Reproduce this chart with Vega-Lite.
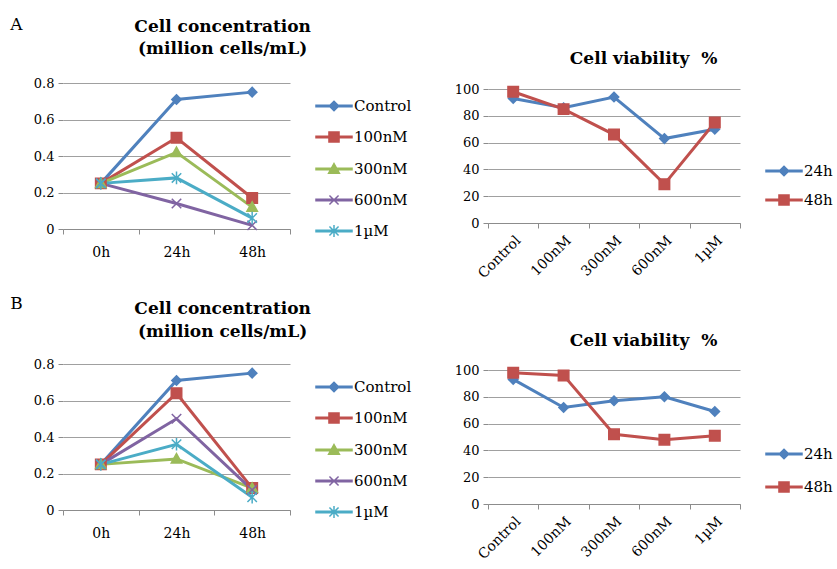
{
  "$schema": "https://vega.github.io/schema/vega-lite/v6.json",
  "background": "white",
  "padding": {"left": 10, "top": 16, "right": 5, "bottom": 5},
  "config": {
    "font": "DejaVu Serif",
    "view": {"stroke": null},
    "axis": {"labelFont": "DejaVu Serif", "labelFontSize": 13, "labelColor": "#000000", "domainColor": "#8c8c8c", "tickColor": "#8c8c8c", "gridColor": "#a0a0a0", "title": null},
    "axisX": {"labelFontSize": 14},
    "legend": {"labelFont": "DejaVu Serif", "labelFontSize": 15, "labelColor": "#000000"},
    "title": {"font": "DejaVu Serif", "fontWeight": "bold", "fontSize": 17, "color": "#000000"}
  },
  "datasets": {
    "concA": [
      {"time": "0h", "series": "Control", "value": 0.25},
      {"time": "24h", "series": "Control", "value": 0.71},
      {"time": "48h", "series": "Control", "value": 0.75},
      {"time": "0h", "series": "100nM", "value": 0.25},
      {"time": "24h", "series": "100nM", "value": 0.50},
      {"time": "48h", "series": "100nM", "value": 0.17},
      {"time": "0h", "series": "300nM", "value": 0.25},
      {"time": "24h", "series": "300nM", "value": 0.42},
      {"time": "48h", "series": "300nM", "value": 0.12},
      {"time": "0h", "series": "600nM", "value": 0.25},
      {"time": "24h", "series": "600nM", "value": 0.14},
      {"time": "48h", "series": "600nM", "value": 0.02},
      {"time": "0h", "series": "1µM", "value": 0.25},
      {"time": "24h", "series": "1µM", "value": 0.28},
      {"time": "48h", "series": "1µM", "value": 0.06}
    ],
    "viaA": [
      {"dose": "Control", "series": "24h", "value": 93},
      {"dose": "100nM", "series": "24h", "value": 86},
      {"dose": "300nM", "series": "24h", "value": 94},
      {"dose": "600nM", "series": "24h", "value": 63},
      {"dose": "1µM", "series": "24h", "value": 70},
      {"dose": "Control", "series": "48h", "value": 98},
      {"dose": "100nM", "series": "48h", "value": 85},
      {"dose": "300nM", "series": "48h", "value": 66},
      {"dose": "600nM", "series": "48h", "value": 29},
      {"dose": "1µM", "series": "48h", "value": 75}
    ],
    "concB": [
      {"time": "0h", "series": "Control", "value": 0.25},
      {"time": "24h", "series": "Control", "value": 0.71},
      {"time": "48h", "series": "Control", "value": 0.75},
      {"time": "0h", "series": "100nM", "value": 0.25},
      {"time": "24h", "series": "100nM", "value": 0.64},
      {"time": "48h", "series": "100nM", "value": 0.12},
      {"time": "0h", "series": "300nM", "value": 0.25},
      {"time": "24h", "series": "300nM", "value": 0.28},
      {"time": "48h", "series": "300nM", "value": 0.12},
      {"time": "0h", "series": "600nM", "value": 0.25},
      {"time": "24h", "series": "600nM", "value": 0.50},
      {"time": "48h", "series": "600nM", "value": 0.11},
      {"time": "0h", "series": "1µM", "value": 0.25},
      {"time": "24h", "series": "1µM", "value": 0.36},
      {"time": "48h", "series": "1µM", "value": 0.07}
    ],
    "viaB": [
      {"dose": "Control", "series": "24h", "value": 93},
      {"dose": "100nM", "series": "24h", "value": 72},
      {"dose": "300nM", "series": "24h", "value": 77},
      {"dose": "600nM", "series": "24h", "value": 80},
      {"dose": "1µM", "series": "24h", "value": 69},
      {"dose": "Control", "series": "48h", "value": 98},
      {"dose": "100nM", "series": "48h", "value": 96},
      {"dose": "300nM", "series": "48h", "value": 52},
      {"dose": "600nM", "series": "48h", "value": 48},
      {"dose": "1µM", "series": "48h", "value": 51}
    ]
  },
  "bounds": "flush",
  "spacing": 281,
  "vconcat": [
    {
      "title": {"text": "A", "anchor": "start", "fontWeight": "normal", "fontSize": 17, "dx": -23, "dy": 20},
      "bounds": "flush",
      "spacing": 198,
      "hconcat": [
        {
          "width": 227, "height": 146,
          "title": {"text": ["Cell concentration", "(million cells/mL)"], "anchor": "middle", "frame": "bounds", "lineHeight": 22, "offset": 19},
          "data": {"name": "concA"},
          "encoding": {
            "x": {"field": "time", "type": "nominal", "sort": ["0h", "24h", "48h"], "scale": {"type": "band", "paddingInner": 0, "paddingOuter": 0}, "axis": {"labelAngle": 0, "tickBand": "extent", "tickSize": 5, "labelPadding": 11, "title": null}},
            "y": {"field": "value", "type": "quantitative", "scale": {"domain": [0, 0.8], "nice": false}, "axis": {"values": [0, 0.2, 0.4, 0.6, 0.8], "format": "~g", "domain": false, "tickSize": 5, "labelPadding": 4, "title": null}}
          },
          "layer": [
            {"mark": {"type": "line", "strokeWidth": 3}, "encoding": {"stroke": {"field": "series", "type": "nominal", "scale": {"domain": ["Control", "100nM", "300nM", "600nM", "1µM"], "range": ["#4F81BD", "#C0504D", "#9BBB59", "#8064A2", "#4BACC6"]}, "legend": null}}},
            {"mark": {"type": "point", "filled": true, "size": 110, "strokeWidth": 1.5, "opacity": 1},
             "encoding": {
               "fill": {"field": "series", "type": "nominal", "scale": {"domain": ["Control", "100nM", "300nM", "600nM", "1µM"], "range": ["#4F81BD", "#C0504D", "#9BBB59", "#8064A2", "#4BACC6"]}, "legend": null},
               "stroke": {"field": "series", "type": "nominal", "scale": {"domain": ["Control", "100nM", "300nM", "600nM", "1µM"], "range": ["#4F81BD", "#C0504D", "#9BBB59", "#8064A2", "#4BACC6"]}, "legend": null},
               "shape": {"field": "series", "type": "nominal", "scale": {"domain": ["Control", "100nM", "300nM", "600nM", "1µM"], "range": ["M0,-0.9L0.9,0L0,0.9L-0.9,0Z", "M-1,-1L1,-1L1,1L-1,1Z", "M0,-1L1,0.8L-1,0.8Z", "M-0.9,-0.9L0.9,0.9M-0.9,0.9L0.9,-0.9", "M-0.9,-0.9L0.9,0.9M-0.9,0.9L0.9,-0.9M0,-1.2L0,1.2"]}, "legend": null}
             }},
            {"mark": {"type": "point", "filled": true, "size": 576, "opacity": 0},
             "encoding": {
               "fill": {"field": "series", "type": "nominal", "scale": {"domain": ["Control", "100nM", "300nM", "600nM", "1µM"], "range": ["#4F81BD", "#C0504D", "#9BBB59", "#8064A2", "#4BACC6"]}, "legend": {"title": null, "orient": "none", "legendX": 258, "legendY": 10, "symbolSize": 576, "symbolStrokeWidth": 1.5, "symbolOpacity": 1, "rowPadding": 10, "labelOffset": 7}},
               "stroke": {"field": "series", "type": "nominal", "scale": {"domain": ["Control", "100nM", "300nM", "600nM", "1µM"], "range": ["#4F81BD", "#C0504D", "#9BBB59", "#8064A2", "#4BACC6"]}, "legend": {"title": null, "orient": "none", "legendX": 258, "legendY": 10, "symbolSize": 576, "symbolStrokeWidth": 1.5, "symbolOpacity": 1, "rowPadding": 10, "labelOffset": 7}},
               "shape": {"field": "series", "type": "nominal", "scale": {"domain": ["Control", "100nM", "300nM", "600nM", "1µM"], "range": [
                 "M-1.5,-0.07L1.5,-0.07L1.5,0.07L-1.5,0.07ZM0,-0.4L0.4,0L0,0.4L-0.4,0Z",
                 "M-1.5,-0.07L1.5,-0.07L1.5,0.07L-1.5,0.07ZM-0.42,-0.42L0.42,-0.42L0.42,0.42L-0.42,0.42Z",
                 "M-1.5,-0.07L1.5,-0.07L1.5,0.07L-1.5,0.07ZM0,-0.45L0.45,0.35L-0.45,0.35Z",
                 "M-1.5,-0.07L1.5,-0.07L1.5,0.07L-1.5,0.07ZM-0.38,-0.38L0.38,0.38M-0.38,0.38L0.38,-0.38",
                 "M-1.5,-0.07L1.5,-0.07L1.5,0.07L-1.5,0.07ZM-0.38,-0.38L0.38,0.38M-0.38,0.38L0.38,-0.38M0,-0.5L0,0.5"]}, "legend": {"title": null, "orient": "none", "legendX": 258, "legendY": 10, "symbolSize": 576, "symbolStrokeWidth": 1.5, "symbolOpacity": 1, "rowPadding": 10, "labelOffset": 7}}
             }}
          ],
          "resolve": {"scale": {"fill": "independent", "stroke": "independent", "shape": "independent"}}
        },
        {
          "width": 252, "height": 140,
          "title": {"text": "Cell viability\u00a0 %", "anchor": "middle", "frame": "bounds", "offset": 15},
          "data": {"name": "viaA"},
          "encoding": {
            "x": {"field": "dose", "type": "nominal", "sort": ["Control", "100nM", "300nM", "600nM", "1µM"], "scale": {"type": "band", "paddingInner": 0, "paddingOuter": 0}, "axis": {"labelAngle": -45, "tickBand": "extent", "tickSize": 5, "labelPadding": 5, "title": null}},
            "y": {"field": "value", "type": "quantitative", "scale": {"domain": [0, 104.5], "nice": false}, "axis": {"values": [0, 20, 40, 60, 80, 100], "domain": false, "tickSize": 5, "labelPadding": 4, "title": null}}
          },
          "layer": [
            {"mark": {"type": "line", "strokeWidth": 3}, "encoding": {"stroke": {"field": "series", "type": "nominal", "scale": {"domain": ["24h", "48h"], "range": ["#4F81BD", "#C0504D"]}, "legend": null}}},
            {"mark": {"type": "point", "filled": true, "size": 110, "strokeWidth": 1.5, "opacity": 1},
             "encoding": {
               "fill": {"field": "series", "type": "nominal", "scale": {"domain": ["24h", "48h"], "range": ["#4F81BD", "#C0504D"]}, "legend": null},
               "stroke": {"field": "series", "type": "nominal", "scale": {"domain": ["24h", "48h"], "range": ["#4F81BD", "#C0504D"]}, "legend": null},
               "shape": {"field": "series", "type": "nominal", "scale": {"domain": ["24h", "48h"], "range": ["M0,-0.9L0.9,0L0,0.9L-0.9,0Z", "M-1,-1L1,-1L1,1L-1,1Z"]}, "legend": null}
             }},
            {"mark": {"type": "point", "filled": true, "size": 576, "opacity": 0},
             "encoding": {
               "fill": {"field": "series", "type": "nominal", "scale": {"domain": ["24h", "48h"], "range": ["#4F81BD", "#C0504D"]}, "legend": {"title": null, "orient": "none", "legendX": 283, "legendY": 75, "symbolSize": 576, "symbolStrokeWidth": 1.5, "symbolOpacity": 1, "rowPadding": 8, "labelOffset": 7}},
               "stroke": {"field": "series", "type": "nominal", "scale": {"domain": ["24h", "48h"], "range": ["#4F81BD", "#C0504D"]}, "legend": {"title": null, "orient": "none", "legendX": 283, "legendY": 75, "symbolSize": 576, "symbolStrokeWidth": 1.5, "symbolOpacity": 1, "rowPadding": 8, "labelOffset": 7}},
               "shape": {"field": "series", "type": "nominal", "scale": {"domain": ["24h", "48h"], "range": [
                 "M-1.5,-0.07L1.5,-0.07L1.5,0.07L-1.5,0.07ZM0,-0.4L0.4,0L0,0.4L-0.4,0Z",
                 "M-1.5,-0.07L1.5,-0.07L1.5,0.07L-1.5,0.07ZM-0.42,-0.42L0.42,-0.42L0.42,0.42L-0.42,0.42Z"]}, "legend": {"title": null, "orient": "none", "legendX": 283, "legendY": 75, "symbolSize": 576, "symbolStrokeWidth": 1.5, "symbolOpacity": 1, "rowPadding": 8, "labelOffset": 7}}
             }}
          ],
          "resolve": {"scale": {"fill": "independent", "stroke": "independent", "shape": "independent"}}
        }
      ]
    },
    {
      "title": {"text": "B", "anchor": "start", "fontWeight": "normal", "fontSize": 17, "dx": -23, "dy": 17},
      "bounds": "flush",
      "spacing": 198,
      "hconcat": [
        {
          "width": 227, "height": 146,
          "title": {"text": ["Cell concentration", "(million cells/mL)"], "anchor": "middle", "frame": "bounds", "lineHeight": 23, "offset": 17},
          "data": {"name": "concB"},
          "encoding": {
            "x": {"field": "time", "type": "nominal", "sort": ["0h", "24h", "48h"], "scale": {"type": "band", "paddingInner": 0, "paddingOuter": 0}, "axis": {"labelAngle": 0, "tickBand": "extent", "tickSize": 5, "labelPadding": 11, "title": null}},
            "y": {"field": "value", "type": "quantitative", "scale": {"domain": [0, 0.8], "nice": false}, "axis": {"values": [0, 0.2, 0.4, 0.6, 0.8], "format": "~g", "domain": false, "tickSize": 5, "labelPadding": 4, "title": null}}
          },
          "layer": [
            {"mark": {"type": "line", "strokeWidth": 3}, "encoding": {"stroke": {"field": "series", "type": "nominal", "scale": {"domain": ["Control", "100nM", "300nM", "600nM", "1µM"], "range": ["#4F81BD", "#C0504D", "#9BBB59", "#8064A2", "#4BACC6"]}, "legend": null}}},
            {"mark": {"type": "point", "filled": true, "size": 110, "strokeWidth": 1.5, "opacity": 1},
             "encoding": {
               "fill": {"field": "series", "type": "nominal", "scale": {"domain": ["Control", "100nM", "300nM", "600nM", "1µM"], "range": ["#4F81BD", "#C0504D", "#9BBB59", "#8064A2", "#4BACC6"]}, "legend": null},
               "stroke": {"field": "series", "type": "nominal", "scale": {"domain": ["Control", "100nM", "300nM", "600nM", "1µM"], "range": ["#4F81BD", "#C0504D", "#9BBB59", "#8064A2", "#4BACC6"]}, "legend": null},
               "shape": {"field": "series", "type": "nominal", "scale": {"domain": ["Control", "100nM", "300nM", "600nM", "1µM"], "range": ["M0,-0.9L0.9,0L0,0.9L-0.9,0Z", "M-1,-1L1,-1L1,1L-1,1Z", "M0,-1L1,0.8L-1,0.8Z", "M-0.9,-0.9L0.9,0.9M-0.9,0.9L0.9,-0.9", "M-0.9,-0.9L0.9,0.9M-0.9,0.9L0.9,-0.9M0,-1.2L0,1.2"]}, "legend": null}
             }},
            {"mark": {"type": "point", "filled": true, "size": 576, "opacity": 0},
             "encoding": {
               "fill": {"field": "series", "type": "nominal", "scale": {"domain": ["Control", "100nM", "300nM", "600nM", "1µM"], "range": ["#4F81BD", "#C0504D", "#9BBB59", "#8064A2", "#4BACC6"]}, "legend": {"title": null, "orient": "none", "legendX": 258, "legendY": 10, "symbolSize": 576, "symbolStrokeWidth": 1.5, "symbolOpacity": 1, "rowPadding": 10, "labelOffset": 7}},
               "stroke": {"field": "series", "type": "nominal", "scale": {"domain": ["Control", "100nM", "300nM", "600nM", "1µM"], "range": ["#4F81BD", "#C0504D", "#9BBB59", "#8064A2", "#4BACC6"]}, "legend": {"title": null, "orient": "none", "legendX": 258, "legendY": 10, "symbolSize": 576, "symbolStrokeWidth": 1.5, "symbolOpacity": 1, "rowPadding": 10, "labelOffset": 7}},
               "shape": {"field": "series", "type": "nominal", "scale": {"domain": ["Control", "100nM", "300nM", "600nM", "1µM"], "range": [
                 "M-1.5,-0.07L1.5,-0.07L1.5,0.07L-1.5,0.07ZM0,-0.4L0.4,0L0,0.4L-0.4,0Z",
                 "M-1.5,-0.07L1.5,-0.07L1.5,0.07L-1.5,0.07ZM-0.42,-0.42L0.42,-0.42L0.42,0.42L-0.42,0.42Z",
                 "M-1.5,-0.07L1.5,-0.07L1.5,0.07L-1.5,0.07ZM0,-0.45L0.45,0.35L-0.45,0.35Z",
                 "M-1.5,-0.07L1.5,-0.07L1.5,0.07L-1.5,0.07ZM-0.38,-0.38L0.38,0.38M-0.38,0.38L0.38,-0.38",
                 "M-1.5,-0.07L1.5,-0.07L1.5,0.07L-1.5,0.07ZM-0.38,-0.38L0.38,0.38M-0.38,0.38L0.38,-0.38M0,-0.5L0,0.5"]}, "legend": {"title": null, "orient": "none", "legendX": 258, "legendY": 10, "symbolSize": 576, "symbolStrokeWidth": 1.5, "symbolOpacity": 1, "rowPadding": 10, "labelOffset": 7}}
             }}
          ],
          "resolve": {"scale": {"fill": "independent", "stroke": "independent", "shape": "independent"}}
        },
        {
          "width": 252, "height": 140,
          "title": {"text": "Cell viability\u00a0 %", "anchor": "middle", "frame": "bounds", "offset": 14},
          "data": {"name": "viaB"},
          "encoding": {
            "x": {"field": "dose", "type": "nominal", "sort": ["Control", "100nM", "300nM", "600nM", "1µM"], "scale": {"type": "band", "paddingInner": 0, "paddingOuter": 0}, "axis": {"labelAngle": -45, "tickBand": "extent", "tickSize": 5, "labelPadding": 5, "title": null}},
            "y": {"field": "value", "type": "quantitative", "scale": {"domain": [0, 104.5], "nice": false}, "axis": {"values": [0, 20, 40, 60, 80, 100], "domain": false, "tickSize": 5, "labelPadding": 4, "title": null}}
          },
          "layer": [
            {"mark": {"type": "line", "strokeWidth": 3}, "encoding": {"stroke": {"field": "series", "type": "nominal", "scale": {"domain": ["24h", "48h"], "range": ["#4F81BD", "#C0504D"]}, "legend": null}}},
            {"mark": {"type": "point", "filled": true, "size": 110, "strokeWidth": 1.5, "opacity": 1},
             "encoding": {
               "fill": {"field": "series", "type": "nominal", "scale": {"domain": ["24h", "48h"], "range": ["#4F81BD", "#C0504D"]}, "legend": null},
               "stroke": {"field": "series", "type": "nominal", "scale": {"domain": ["24h", "48h"], "range": ["#4F81BD", "#C0504D"]}, "legend": null},
               "shape": {"field": "series", "type": "nominal", "scale": {"domain": ["24h", "48h"], "range": ["M0,-0.9L0.9,0L0,0.9L-0.9,0Z", "M-1,-1L1,-1L1,1L-1,1Z"]}, "legend": null}
             }},
            {"mark": {"type": "point", "filled": true, "size": 576, "opacity": 0},
             "encoding": {
               "fill": {"field": "series", "type": "nominal", "scale": {"domain": ["24h", "48h"], "range": ["#4F81BD", "#C0504D"]}, "legend": {"title": null, "orient": "none", "legendX": 283, "legendY": 77, "symbolSize": 576, "symbolStrokeWidth": 1.5, "symbolOpacity": 1, "rowPadding": 12, "labelOffset": 7}},
               "stroke": {"field": "series", "type": "nominal", "scale": {"domain": ["24h", "48h"], "range": ["#4F81BD", "#C0504D"]}, "legend": {"title": null, "orient": "none", "legendX": 283, "legendY": 77, "symbolSize": 576, "symbolStrokeWidth": 1.5, "symbolOpacity": 1, "rowPadding": 12, "labelOffset": 7}},
               "shape": {"field": "series", "type": "nominal", "scale": {"domain": ["24h", "48h"], "range": [
                 "M-1.5,-0.07L1.5,-0.07L1.5,0.07L-1.5,0.07ZM0,-0.4L0.4,0L0,0.4L-0.4,0Z",
                 "M-1.5,-0.07L1.5,-0.07L1.5,0.07L-1.5,0.07ZM-0.42,-0.42L0.42,-0.42L0.42,0.42L-0.42,0.42Z"]}, "legend": {"title": null, "orient": "none", "legendX": 283, "legendY": 77, "symbolSize": 576, "symbolStrokeWidth": 1.5, "symbolOpacity": 1, "rowPadding": 12, "labelOffset": 7}}
             }}
          ],
          "resolve": {"scale": {"fill": "independent", "stroke": "independent", "shape": "independent"}}
        }
      ]
    }
  ]
}
